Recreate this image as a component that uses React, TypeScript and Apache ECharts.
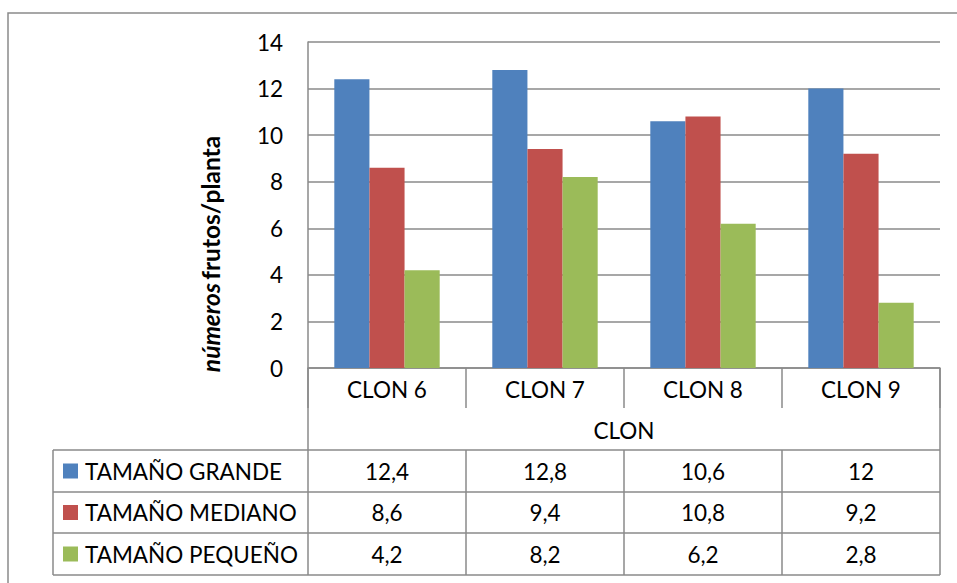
import React, { useEffect, useRef } from "react";
import * as echarts from "echarts";

const categories = ["CLON 6", "CLON 7", "CLON 8", "CLON 9"];
const seriesNames = ["TAMAÑO GRANDE", "TAMAÑO MEDIANO", "TAMAÑO PEQUEÑO"];
const grande = [12.4, 12.8, 10.6, 12];
const mediano = [8.6, 9.4, 10.8, 9.2];
const pequeno = [4.2, 8.2, 6.2, 2.8];
const seriesColors = ["#4F81BD", "#C0504D", "#9BBB59"];
const yMin = 0;
const yMax = 14;
const yStep = 2;
const xTitle = "CLON";

const W = 957;
const H = 583;
const FONT = "Lato, 'Open Sans', sans-serif";
const LINE = "#8a8a8a";
const TEXT = "#000000";
const FS = 22.5;
const TITLE_FS = 24.5;

// plot rectangle and data-table rows (page pixels)
const plotL = 308;
const plotR = 940;
const plotT = 42;
const plotB = 368;
const tableL = 53;
const rowLines = [450, 492, 533, 575];

const fmt = (v: number) => String(v).replace(".", ",");

export default function App() {
  const ref = useRef<HTMLDivElement>(null);

  useEffect(() => {
    if (!ref.current) return;
    const chart = echarts.init(ref.current, null, { renderer: "svg" });
    const values = [grande, mediano, pequeno];
    const colW = (plotR - plotL) / categories.length;

    const graphics: any[] = [];
    // outer chart frame
    graphics.push({
      type: "rect",
      z: 0,
      shape: { x: 8, y: 13, width: W + 20, height: H + 20 },
      style: { fill: "none", stroke: LINE, lineWidth: 1.5 },
    });
    const line = (x1: number, y1: number, x2: number, y2: number) => ({
      type: "line",
      z: 10,
      shape: { x1, y1, x2, y2 },
      style: { stroke: LINE, lineWidth: 1.5 },
    });
    // table frame
    graphics.push(line(plotL, plotB, plotL, rowLines[rowLines.length - 1]));
    graphics.push(line(plotR, plotB, plotR, rowLines[rowLines.length - 1]));
    graphics.push(line(tableL, rowLines[0], tableL, rowLines[rowLines.length - 1]));
    rowLines.forEach((y) => graphics.push(line(tableL, y, plotR, y)));
    for (let i = 1; i < categories.length; i++) {
      const x = plotL + colW * i;
      graphics.push(line(x, rowLines[0], x, rowLines[rowLines.length - 1]));
    }
    // legend keys, series names and values
    seriesNames.forEach((name, r) => {
      const cy = (rowLines[r] + rowLines[r + 1]) / 2;
      graphics.push({
        type: "rect",
        z: 10,
        shape: { x: 63, y: cy - 7.5, width: 15, height: 15 },
        style: { fill: seriesColors[r] },
      });
      graphics.push({
        type: "text",
        z: 10,
        x: 85,
        y: cy,
        style: {
          text: name,
          font: `${FS}px ${FONT}`,
          fill: TEXT,
          align: "left",
          verticalAlign: "middle",
        },
      });
      values[r].forEach((v, c) => {
        graphics.push({
          type: "text",
          z: 10,
          x: plotL + colW * (c + 0.5),
          y: cy,
          style: {
            text: fmt(v),
            font: `${FS}px ${FONT}`,
            fill: TEXT,
            align: "center",
            verticalAlign: "middle",
          },
        });
      });
    });
    // value axis title
    graphics.push({
      type: "text",
      z: 10,
      x: 210,
      y: 254,
      rotation: Math.PI / 2,
      style: {
        text: "{i|números} {b|frutos/planta}",
        align: "center",
        verticalAlign: "middle",
        rich: {
          i: {
            fontFamily: FONT,
            fontSize: TITLE_FS,
            fontWeight: "bold",
            fontStyle: "italic",
            fill: TEXT,
          },
          b: {
            fontFamily: FONT,
            fontSize: TITLE_FS,
            fontWeight: "bold",
            fill: TEXT,
          },
        },
      },
    });

    chart.setOption({
      animation: false,
      backgroundColor: "#ffffff",
      grid: {
        left: plotL,
        right: W - plotR,
        top: plotT,
        bottom: H - plotB,
        containLabel: false,
        outerBoundsMode: "none",
      },
      xAxis: {
        type: "category",
        data: categories,
        name: xTitle,
        nameLocation: "middle",
        nameGap: 51,
        nameTextStyle: { fontFamily: FONT, fontSize: FS, color: TEXT },
        axisLine: { show: true, lineStyle: { color: LINE, width: 1.5 } },
        axisTick: {
          show: true,
          length: 40,
          lineStyle: { color: LINE, width: 1.5 },
        },
        axisLabel: {
          fontFamily: FONT,
          fontSize: FS,
          color: TEXT,
          margin: 10,
          interval: 0,
        },
      },
      yAxis: {
        type: "value",
        min: yMin,
        max: yMax,
        interval: yStep,
        axisLine: { show: true, lineStyle: { color: LINE, width: 1.5 } },
        axisTick: { show: false },
        splitLine: { show: true, lineStyle: { color: LINE, width: 1.5 } },
        axisLabel: {
          fontFamily: FONT,
          fontSize: FS,
          color: TEXT,
          margin: 25,
        },
      },
      series: values.map((d, i) => ({
        type: "bar",
        name: seriesNames[i],
        data: d,
        barGap: "0%",
        barCategoryGap: "33.3%",
        itemStyle: { color: seriesColors[i] },
      })),
      graphic: graphics,
    });
    return () => chart.dispose();
  }, []);

  return (
    <div
      ref={ref}
      style={{ position: "fixed", left: 0, top: 0, width: W, height: H }}
    />
  );
}
